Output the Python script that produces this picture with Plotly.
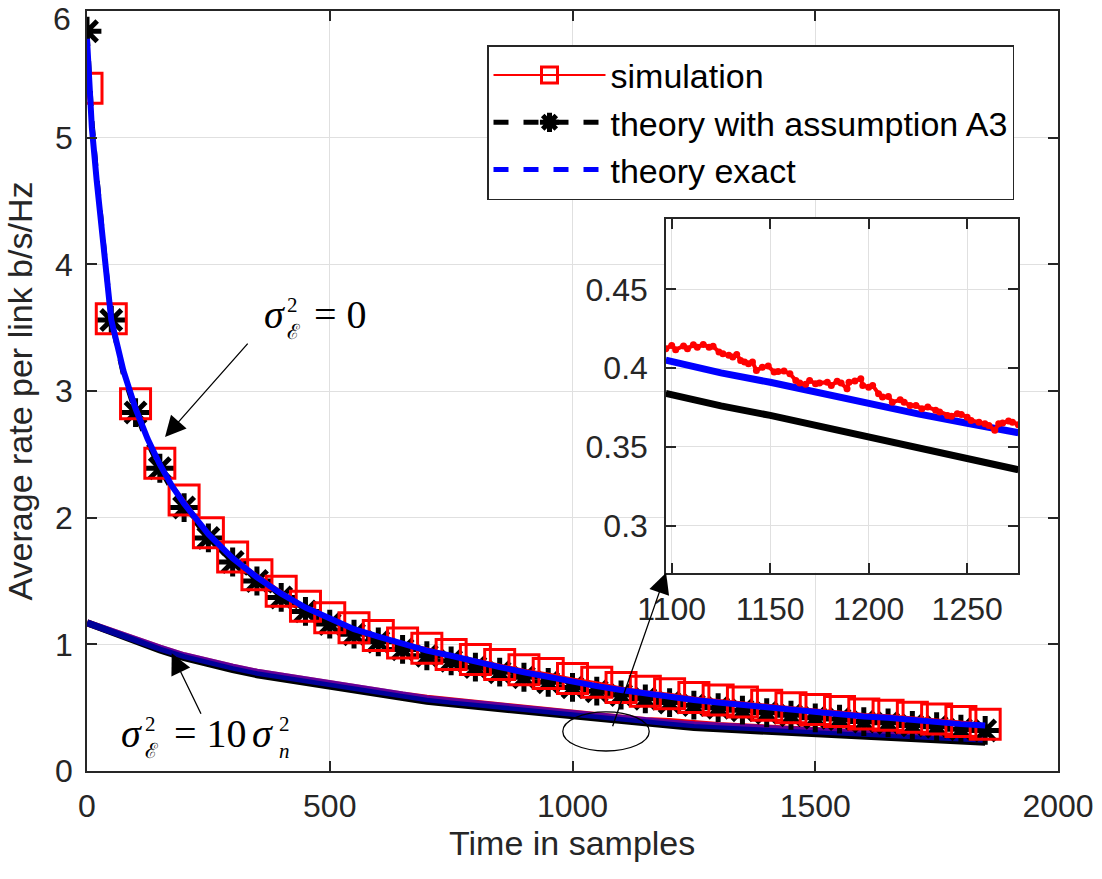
import plotly.graph_objects as go

# ---------------- data ----------------
# sigma_E^2 = 0 group (upper curves)
x_upper = [0, 10, 20, 30, 40, 50, 75, 100, 125, 150, 175, 200, 250, 300, 350, 400, 450, 500,
           550, 600, 650, 700, 750, 800, 850, 900, 950, 1000, 1050, 1100, 1150, 1200, 1250,
           1300, 1350, 1400, 1450, 1500, 1550, 1600, 1650, 1700, 1750, 1800, 1850]
exact_upper = [5.78, 5.08, 4.66, 4.27, 3.90, 3.56, 3.16, 2.86, 2.62, 2.42, 2.25, 2.11, 1.87, 1.68,
               1.53, 1.40, 1.29, 1.20, 1.12, 1.06, 1.00, 0.95, 0.91, 0.86, 0.82, 0.78, 0.74, 0.70,
               0.67, 0.64, 0.61, 0.58, 0.56, 0.54, 0.52, 0.50, 0.48, 0.46, 0.45, 0.43, 0.42, 0.40,
               0.39, 0.37, 0.36]
a3_upper = [5.84, 5.14, 4.70, 4.30, 3.92, 3.56, 3.13, 2.83, 2.59, 2.39, 2.22, 2.08, 1.84, 1.65,
            1.50, 1.37, 1.26, 1.16, 1.08, 1.02, 0.96, 0.91, 0.87, 0.82, 0.78, 0.74, 0.70, 0.66,
            0.63, 0.60, 0.57, 0.54, 0.52, 0.50, 0.48, 0.46, 0.44, 0.42, 0.41, 0.39, 0.38, 0.36,
            0.35, 0.33, 0.32]
sim_upper = [5.39, 5.08, 4.66, 4.27, 3.91, 3.57, 3.18, 2.90, 2.64, 2.43, 2.27, 2.14, 1.88, 1.69,
             1.55, 1.42, 1.30, 1.21, 1.13, 1.07, 1.01, 0.97, 0.92, 0.88, 0.84, 0.80, 0.77, 0.73,
             0.70, 0.66, 0.63, 0.61, 0.58, 0.56, 0.545, 0.52, 0.50, 0.485, 0.47, 0.45, 0.44, 0.425,
             0.41, 0.39, 0.37]
marker_step = 50

# sigma_E^2 = 10 sigma_n^2 group (lower curves)
x_lower = [0, 50, 100, 150, 200, 250, 300, 350, 400, 450, 500, 550, 600, 650, 700, 750, 800,
           850, 900, 950, 1000, 1050, 1100, 1150, 1200, 1250, 1300, 1350, 1400, 1450, 1500,
           1550, 1600, 1650, 1700, 1750, 1800, 1850]
exact_lower = [1.17, 1.10, 1.03, 0.97, 0.91, 0.86, 0.82, 0.78, 0.75, 0.71, 0.68, 0.65, 0.62,
               0.60, 0.57, 0.55, 0.53, 0.51, 0.49, 0.47, 0.45, 0.43, 0.41, 0.39, 0.38, 0.365,
               0.355, 0.345, 0.335, 0.325, 0.315, 0.305, 0.295, 0.285, 0.28, 0.27, 0.26, 0.25]
a3_lower = [1.17, 1.095, 1.02, 0.955, 0.895, 0.845, 0.80, 0.76, 0.73, 0.69, 0.66, 0.63, 0.60,
            0.58, 0.55, 0.53, 0.51, 0.49, 0.47, 0.45, 0.43, 0.41, 0.39, 0.37, 0.357, 0.343,
            0.333, 0.323, 0.313, 0.303, 0.293, 0.283, 0.273, 0.263, 0.257, 0.247, 0.237, 0.227]
sim_lower = [1.17, 1.10, 1.03, 0.97, 0.91, 0.86, 0.82, 0.78, 0.75, 0.715, 0.68, 0.655, 0.625,
             0.60, 0.575, 0.555, 0.535, 0.515, 0.49, 0.47, 0.455, 0.435, 0.413, 0.398, 0.39,
             0.37, 0.36, 0.35, 0.34, 0.33, 0.32, 0.31, 0.30, 0.29, 0.283, 0.273, 0.263, 0.253]

# inset (zoom of lower group)
inset_x = [1097, 1125, 1150, 1175, 1200, 1225, 1250, 1276]
inset_exact = [0.405, 0.397, 0.391, 0.384, 0.378, 0.371, 0.365, 0.359]
inset_a3 = [0.384, 0.376, 0.370, 0.363, 0.356, 0.349, 0.343, 0.3355]
inset_sim_x = [1097, 1100, 1102, 1106, 1108, 1111, 1113, 1116, 1119, 1121,
               1124, 1126, 1129, 1131, 1133, 1135, 1137, 1139, 1141, 1143,
               1146, 1149, 1152, 1154, 1157, 1160, 1163, 1165, 1168, 1170,
               1173, 1175, 1179, 1181, 1184, 1186, 1189, 1190, 1193, 1196,
               1197, 1200, 1202, 1205, 1207, 1210, 1212, 1216, 1218, 1221,
               1224, 1227, 1230, 1234, 1236, 1240, 1242, 1245, 1247, 1250,
               1252, 1256, 1259, 1261, 1264, 1266, 1268, 1271, 1273, 1276]
inset_sim_y = [0.4123, 0.4144, 0.4117, 0.4140, 0.4123, 0.4148, 0.4133, 0.4150, 0.4133, 0.4138,
               0.4102, 0.4091, 0.4081, 0.4070, 0.4087, 0.4049, 0.4038, 0.4028, 0.4038, 0.3985,
               0.4006, 0.4013, 0.3975, 0.3979, 0.3981, 0.3964, 0.3922, 0.3905, 0.3897, 0.3922,
               0.3901, 0.3905, 0.3911, 0.3890, 0.3916, 0.3905, 0.3869, 0.3911, 0.3918, 0.3933,
               0.3890, 0.3879, 0.3890, 0.3838, 0.3816, 0.3820, 0.3784, 0.3799, 0.3784, 0.3763,
               0.3763, 0.3742, 0.3753, 0.3732, 0.3721, 0.3700, 0.3694, 0.3711, 0.3706, 0.3689,
               0.3668, 0.3657, 0.3647, 0.3636, 0.3605, 0.3647, 0.3651, 0.3664, 0.3657, 0.3641]

x_ticks = [0, 500, 1000, 1500, 2000]
y_ticks = [0, 1, 2, 3, 4, 5, 6]
y_tick_text = ["0", "1", "2", "3", "4", "5", "6"]
inset_x_ticks = [1100, 1150, 1200, 1250]
inset_y_ticks = [0.3, 0.35, 0.4, 0.45]

legend_names = ["simulation", "theory with assumption A3", "theory exact"]
x_title = "Time in samples"
y_title = "Average rate per link b/s/Hz"

# ---------------- layout geometry ----------------
W, H = 1102, 879
ML, MR, MT, MB = 87, 44, 11, 108
PW, PH = W - ML - MR, H - MT - MB

def paper(px, py):
    return (px - ML) / PW, (H - MB - py) / PH

RED, BLACK, BLUE = "#ff0000", "#000000", "#0000ff"
AX = "#262626"
GRID = "#e0e0e0"
SANS = "Liberation Sans, Arial, sans-serif"
SERIF = "Liberation Serif, DejaVu Serif, serif"

fig = go.Figure()

# lower group
fig.add_trace(go.Scatter(x=x_lower, y=sim_lower, mode="lines", line=dict(color=RED, width=7),
                         showlegend=False, hoverinfo="skip"))
fig.add_trace(go.Scatter(x=x_lower, y=a3_lower, mode="lines", line=dict(color=BLACK, width=7),
                         showlegend=False, hoverinfo="skip"))
fig.add_trace(go.Scatter(x=x_lower, y=exact_lower, mode="lines", line=dict(color=BLUE, width=7),
                         opacity=0.6, showlegend=False, hoverinfo="skip"))

# upper group
mk_x = [x for x in x_upper if x % marker_step == 0]
mk_a3 = [v for x, v in zip(x_upper, a3_upper) if x % marker_step == 0]
mk_sim = [v for x, v in zip(x_upper, sim_upper) if x % marker_step == 0]

fig.add_trace(go.Scatter(x=x_upper, y=a3_upper, mode="lines",
                         line=dict(color=BLACK, width=5, dash="dash"),
                         showlegend=False, hoverinfo="skip"))
fig.add_trace(go.Scatter(x=mk_x, y=mk_a3, mode="markers",
                         marker=dict(symbol="asterisk-open", size=24, color=BLACK,
                                     line=dict(color=BLACK, width=5)),
                         showlegend=False, hoverinfo="skip"))
fig.add_trace(go.Scatter(x=x_upper, y=sim_upper, mode="lines",
                         line=dict(color=RED, width=2),
                         showlegend=False, hoverinfo="skip"))
fig.add_trace(go.Scatter(x=mk_x, y=mk_sim, mode="markers",
                         marker=dict(symbol="square-open", size=30, color=RED,
                                     line=dict(color=RED, width=3)),
                         showlegend=False, hoverinfo="skip"))
fig.add_trace(go.Scatter(x=x_upper, y=exact_upper, mode="lines",
                         line=dict(color=BLUE, width=6),
                         showlegend=False, hoverinfo="skip"))

# inset
fig.add_trace(go.Scatter(x=inset_x, y=inset_a3, mode="lines", xaxis="x2", yaxis="y2",
                         line=dict(color=BLACK, width=7), showlegend=False, hoverinfo="skip"))
fig.add_trace(go.Scatter(x=inset_x, y=inset_exact, mode="lines", xaxis="x2", yaxis="y2",
                         line=dict(color=BLUE, width=7), showlegend=False, hoverinfo="skip"))
fig.add_trace(go.Scatter(x=inset_sim_x, y=inset_sim_y, mode="lines+markers", xaxis="x2", yaxis="y2",
                         line=dict(color=RED, width=4), marker=dict(color=RED, size=7),
                         showlegend=False, hoverinfo="skip"))

# legend entries
fig.add_trace(go.Scatter(x=[None], y=[None], mode="lines+markers", name=legend_names[0],
                         line=dict(color=RED, width=2),
                         marker=dict(symbol="square-open", size=30, color=RED,
                                     line=dict(color=RED, width=3))))
fig.add_trace(go.Scatter(x=[None], y=[None], mode="lines+markers", name=legend_names[1],
                         line=dict(color=BLACK, width=5, dash="dash"),
                         marker=dict(symbol="asterisk-open", size=24, color=BLACK,
                                     line=dict(color=BLACK, width=5))))
fig.add_trace(go.Scatter(x=[None], y=[None], mode="lines", name=legend_names[2],
                         line=dict(color=BLUE, width=5, dash="dash")))

axis_common = dict(ticks="inside", ticklen=10, tickwidth=1.5, tickcolor=AX,
                   showline=True, linecolor=AX, linewidth=1.5, mirror="ticks",
                   showgrid=True, gridcolor=GRID, gridwidth=1.3, zeroline=False,
                   tickfont=dict(family=SANS, size=32, color=AX))

ix0, iy1 = paper(666, 219)
ix1, iy0 = paper(1018, 572.7)

# the top label of the y axis sits just below the frame corner (as in the original),
# so it is drawn as its own text instead of the clipped tick label
y_text_shown = y_tick_text[:-1] + [""]

fig.update_layout(
    width=W, height=H,
    margin=dict(l=ML, r=MR, t=MT, b=MB, autoexpand=False),
    paper_bgcolor="white", plot_bgcolor="white",
    font=dict(family=SANS, color=AX),
    xaxis=dict(range=[0, 2000], tickvals=x_ticks, domain=[0, 1], anchor="y",
               ticklabelstandoff=6, **axis_common),
    yaxis=dict(range=[0, 6], tickvals=y_ticks, ticktext=y_text_shown, domain=[0, 1], anchor="x",
               ticklabelstandoff=6,
               title=dict(text=y_title, font=dict(family=SANS, size=34, color=AX), standoff=12),
               **axis_common),
    xaxis2=dict(range=[1097.1, 1275.8], tickvals=inset_x_ticks, domain=[ix0, ix1], anchor="y2",
                ticklabelstandoff=7, **axis_common),
    yaxis2=dict(range=[0.2702, 0.4946], tickvals=inset_y_ticks, domain=[iy0, iy1], anchor="x2",
                ticklabelstandoff=10, **axis_common),
    legend=dict(x=paper(487, 45)[0], y=paper(487, 45)[1], xanchor="left", yanchor="top",
                bgcolor="white", bordercolor=AX, borderwidth=1.5, itemwidth=112,
                font=dict(family=SANS, size=34, color="black")),
    showlegend=True,
)

# top y tick label
tx, ty = paper(73, 19)
fig.add_annotation(text=y_tick_text[-1], x=tx, y=ty, xref="paper", yref="paper", showarrow=False,
                   xanchor="right", yanchor="middle", font=dict(family=SANS, size=32, color=AX))

# x-axis title placed as text below the tick labels
xt, yt = paper(572, 843)
fig.add_annotation(text=x_title, x=xt, y=yt, xref="paper", yref="paper", showarrow=False,
                   xanchor="center", yanchor="middle", font=dict(family=SANS, size=34, color=AX))

# ellipse around lower group
fig.add_shape(type="circle", xref="x", yref="y", x0=980, x1=1158, y0=0.158, y1=0.466,
              line=dict(color=BLACK, width=1.3))

# arrows
arrow_style = dict(showarrow=True, arrowhead=2, arrowsize=3.2, arrowwidth=1.3,
                   arrowcolor=BLACK, text="", xref="x", yref="y")
fig.add_annotation(x=160.7, y=2.636, ax=84, ay=-95, **arrow_style)
fig.add_annotation(x=174.5, y=0.929, ax=30, ay=62, **arrow_style)
fig.add_annotation(x=1192.8, y=1.565, ax=-54, ay=155, **arrow_style)

# math labels built from pieces (sigma with stacked super/subscripts)
def label(text, px, py, size):
    xp, yp = paper(px, py)
    fig.add_annotation(text=text, x=xp, y=yp, xref="paper", yref="paper",
                       xanchor="left", yanchor="middle", align="left", showarrow=False,
                       font=dict(family=SERIF, size=size, color=BLACK))

# sigma_E^2 = 0
label("<i>σ</i>", 262, 314, 40)
label("2<br>ℰ", 285, 318, 21)
label("= 0", 312, 314, 40)

# sigma_E^2 = 10 sigma_n^2
label("<i>σ</i>", 119, 733, 40)
label("2<br>ℰ", 143, 737, 21)
label("= 10", 172, 733, 40)
label("<i>σ</i>", 250, 733, 40)
label("2<br><i>n</i>", 277, 737, 21)

fig.write_html("out.html")
